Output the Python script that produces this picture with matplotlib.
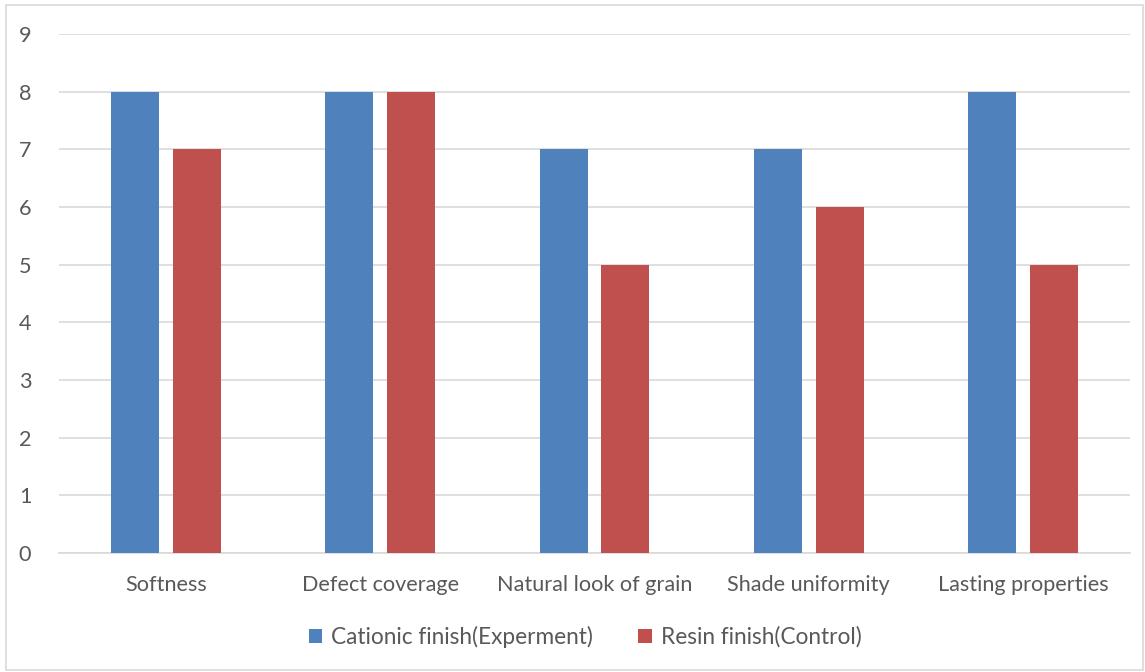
import numpy as np
import matplotlib.pyplot as plt
from matplotlib.patches import Rectangle

categories = ["Softness", "Defect coverage", "Natural look of grain",
              "Shade uniformity", "Lasting properties"]
cationic = [8, 8, 7, 7, 8]
resin = [7, 8, 5, 6, 5]
series_names = ["Cationic finish(Experment)", "Resin finish(Control)"]

plt.rcParams['font.family'] = ['Lato', 'DejaVu Sans']

fig = plt.figure(figsize=(11.45, 6.72), dpi=100)
ax = fig.add_axes([59 / 1145, 1 - 553 / 672, (1130 - 59) / 1145, (553 - 34) / 672])

x = np.arange(len(categories))
w = 0.224
gap = 0.065
ax.bar(x - (w + gap) / 2, cationic, w, color="#4F81BD", label=series_names[0], zorder=3)
ax.bar(x + (w + gap) / 2, resin, w, color="#C0504D", label=series_names[1], zorder=3)

ax.set_xlim(-0.5, len(categories) - 0.5)
ax.set_ylim(0, 9)
ax.set_yticks(range(10))
ax.set_xticks(x)
ax.set_xticklabels(categories)
ax.yaxis.grid(True, color="#d9d9d9", linewidth=1.2, zorder=0)
for s in ["top", "right", "left"]:
    ax.spines[s].set_visible(False)
ax.spines["bottom"].set_color("#d9d9d9")
ax.spines["bottom"].set_linewidth(1.2)
ax.tick_params(axis="both", length=0, colors="#595959", labelsize=15.6)
ax.tick_params(axis="x", pad=16)
ax.tick_params(axis="y", pad=20)

fig.legend(loc="center", bbox_to_anchor=(0.511, 1 - 637 / 672), ncol=2, frameon=False,
           fontsize=16.3, labelcolor="#595959", handlelength=0.6, handleheight=0.6,
           handletextpad=0.4, columnspacing=2.0)

fig.patches.append(Rectangle((6 / 1145, 2 / 672), 1137 / 1145, 665 / 672,
                             transform=fig.transFigure, fill=False,
                             edgecolor="#d9d9d9", linewidth=1.2))

fig.savefig("out.png", dpi=100)
